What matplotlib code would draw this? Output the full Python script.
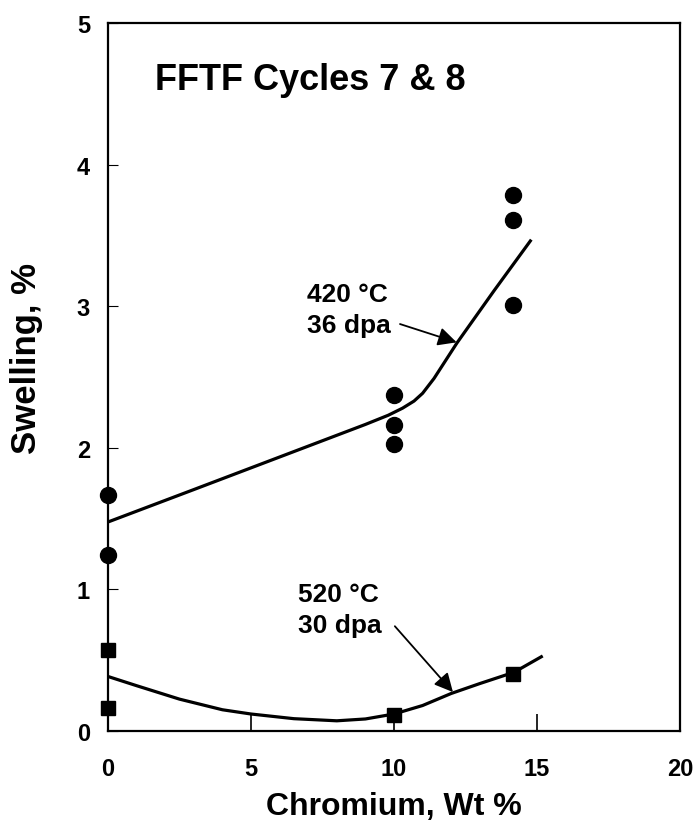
import matplotlib
matplotlib.use('Agg')
import matplotlib.pyplot as plt

plt.rcParams['font.family'] = ['Liberation Sans', 'DejaVu Sans']
plt.rcParams['font.weight'] = 'bold'
plt.rcParams['axes.labelweight'] = 'bold'

# measured points
cr_420 = [0, 0, 10, 10, 10, 14.15, 14.15, 14.15]
sw_420 = [1.67, 1.24, 2.37, 2.16, 2.03, 3.785, 3.61, 3.01]
cr_520 = [0, 0, 10, 14.15]
sw_520 = [0.57, 0.16, 0.11, 0.40]

# hand-drawn trend curves
fit_x_420 = [0, 3, 6, 9, 9.8, 10.3, 10.7, 11.0, 11.4, 12.2, 13.5, 14.8]
fit_y_420 = [1.476, 1.705, 1.935, 2.165, 2.23, 2.28, 2.33, 2.385, 2.49, 2.74, 3.11, 3.47]
fit_x_520 = [0, 1, 2.5, 4, 5, 6.5, 8, 9, 10, 11, 12, 13, 14.2, 15.2]
fit_y_520 = [0.385, 0.32, 0.225, 0.15, 0.12, 0.087, 0.072, 0.085, 0.12, 0.18, 0.265, 0.335, 0.415, 0.53]

fig = plt.figure(figsize=(6.95, 8.29), dpi=100)
ax = fig.add_axes([108/695, 1-732/829, 572/695, 708/829])

ax.plot(fit_x_420, fit_y_420, color='black', lw=2.3, solid_capstyle='butt')
ax.plot(fit_x_520, fit_y_520, color='black', lw=2.3, solid_capstyle='butt')
ax.plot(cr_420, sw_420, 'o', color='black', ms=11.5, clip_on=False, zorder=5)
ax.plot(cr_520, sw_520, 's', color='black', ms=10.5, clip_on=False, zorder=5)

ax.set_xlim(0, 20)
ax.set_ylim(0, 5)
ax.set_xticks([0, 5, 10, 15, 20])
ax.set_yticks([0, 1, 2, 3, 4, 5])
ax.tick_params(axis='x', direction='in', length=12, width=1.2, pad=19, labelsize=17)
ax.tick_params(axis='y', direction='in', length=7, width=0.8, pad=13, labelsize=17)
for sp in ax.spines.values():
    sp.set_linewidth(1.6)

ax.set_xlabel('Chromium, Wt %', fontsize=23)
ax.set_ylabel('Swelling, %', fontsize=25)
ax.xaxis.set_label_coords(0.5, -0.085)
ax.yaxis.set_label_coords(-0.114, 0.528)

ax.text(1.64, 4.534, 'FFTF Cycles 7 & 8', fontsize=26, va='baseline')

ax.text(6.95, 3.039, '420 °C', fontsize=19, va='baseline')
ax.text(6.95, 2.818, '36 dpa', fontsize=19, va='baseline')
ax.annotate('', xy=(12.19, 2.745), xytext=(10.21, 2.874),
            arrowprops=dict(arrowstyle='-|>', color='black', lw=1.3,
                            mutation_scale=28, shrinkA=0, shrinkB=0))

ax.text(6.64, 0.918, '520 °C', fontsize=19, va='baseline')
ax.text(6.64, 0.699, '30 dpa', fontsize=19, va='baseline')
ax.annotate('', xy=(12.06, 0.275), xytext=(10.03, 0.74),
            arrowprops=dict(arrowstyle='-|>', color='black', lw=1.3,
                            mutation_scale=28, shrinkA=0, shrinkB=0))

fig.savefig('out.png', dpi=100)
